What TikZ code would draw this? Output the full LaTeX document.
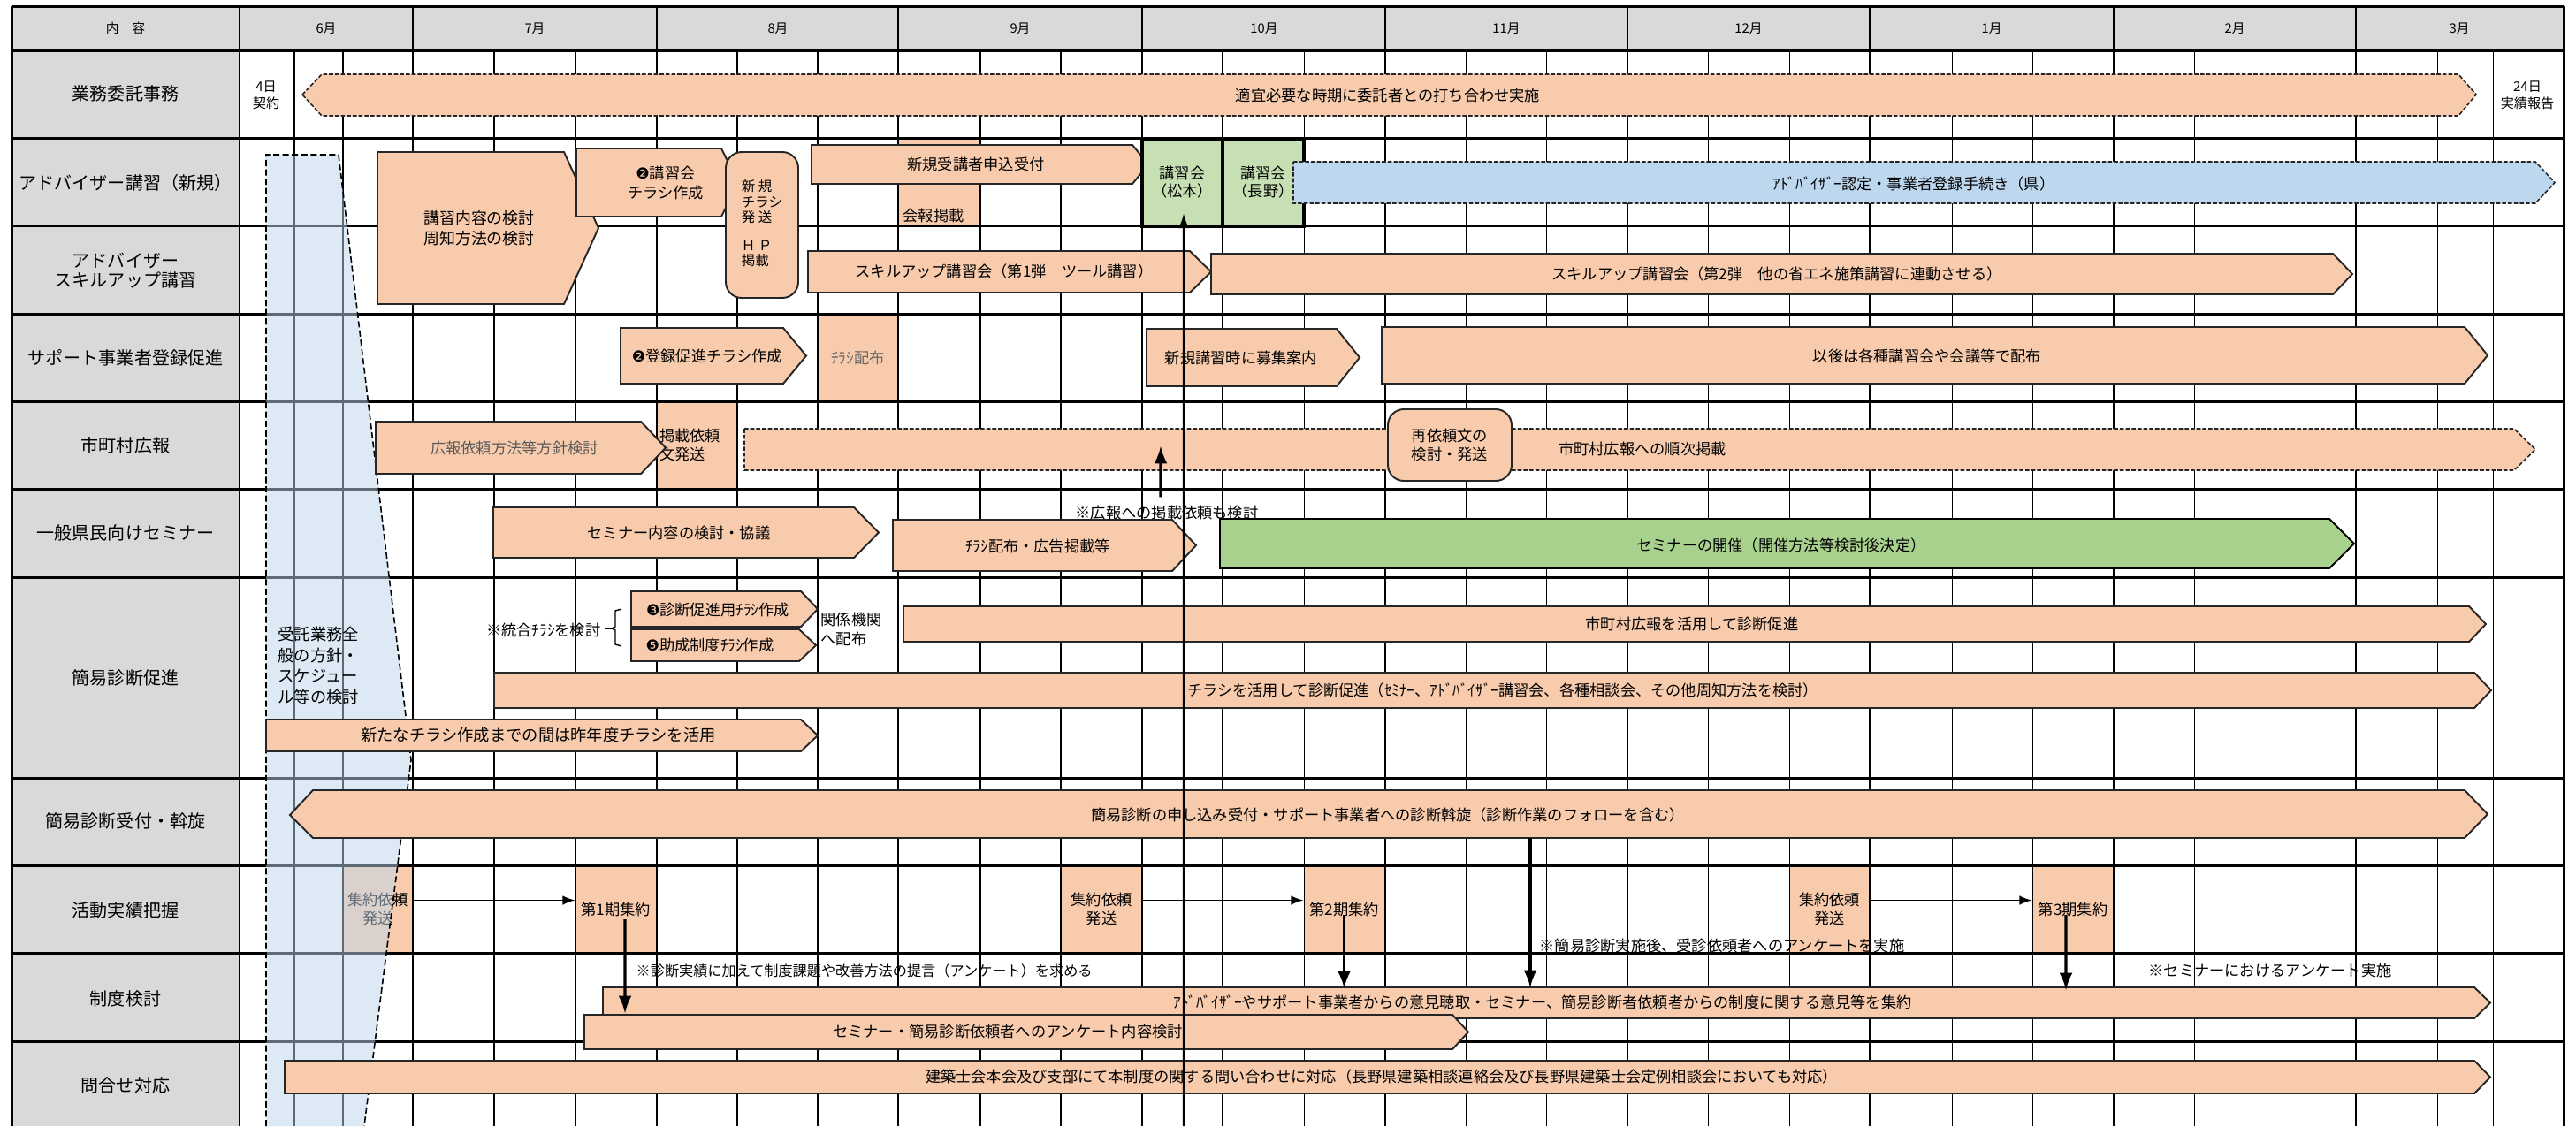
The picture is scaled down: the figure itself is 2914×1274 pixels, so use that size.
\documentclass[tikz,border=0pt]{standalone}
\usepackage{fontspec}
\setmainfont{Noto Sans CJK JP}
\newfontfamily\dingfont{DejaVu Sans}
\usepackage{tikz}
\usetikzlibrary{calc}
\definecolor{hdrgray}{HTML}{D9D9D9}
\definecolor{barorg}{HTML}{F8CBAD}
\definecolor{kosgrn}{HTML}{C6E0B4}
\definecolor{semgrn}{HTML}{A9D18E}
\definecolor{kenblu}{HTML}{BDD7EE}
\newcommand{\dg}[1]{{\dingfont #1}}
\newcommand{\pentbar}[6][]{\draw[bar,#1] (#2,#3) -- (#4,#3) -- (#6,{(#3+#5)/2}) -- (#4,#5) -- (#2,#5) -- cycle;}

\begin{document}
\begin{tikzpicture}[x=0.1mm,y=-0.1mm,>=latex,
    hdr/.style={font=\fontsize{4.2}{5}\selectfont,inner sep=0},
    lbl/.style={font=\fontsize{5.7}{6.3}\selectfont,align=center,inner sep=0},
    tx/.style={font=\fontsize{4.9}{6.2}\selectfont,align=center,inner sep=0},
    sm/.style={font=\fontsize{4.3}{5.4}\selectfont,align=center,inner sep=0},
    cell/.style={fill=barorg,inner sep=0,minimum height=9.9mm},
    kos/.style={draw=black,line width=1.1pt,fill=kosgrn,inner sep=0,minimum height=9.9mm,font=\fontsize{4.9}{5.7}\selectfont,align=center},
    rbox/.style={draw=black!85,line width=0.55pt,fill=barorg,rounded corners=1.8mm,inner sep=0},
    bar/.style={draw=black!85,line width=0.55pt,fill=barorg},
    dbar/.style={bar,line width=0.45pt,dash pattern=on 1.3pt off 0.6pt},
    gridln/.style={line width=0.3pt},
    monln/.style={line width=0.5pt},
    rowln/.style={line width=0.85pt},
    harr/.style={->,line width=0.4pt},
    dnarr/.style={->,line width=0.9pt}]
  \useasboundingbox (0,0) rectangle (2914,1274);
  \fill[white] (0,0) rectangle (2914,1274);
  \fill[hdrgray] (14,7) rectangle (2900,57);
  \fill[hdrgray] (14,57) rectangle (271,1274);

  \node[hdr] (naiyo) at (142,32) {内　容};
  \foreach \m/\x in {6/369,7/605,8/880,9/1154,10/1430,11/1704,12/1978,1/2253,2/2528,3/2782}
    \node[hdr] (m\m) at (\x,32) {\m 月};

  \node[lbl] (r1) at (142,106) {業務委託事務};
  \node[lbl] (r2) at (142,207) {アドバイザー講習（新規）};
  \node[lbl] (r3) at (142,306) {アドバイザー\\スキルアップ講習};
  \node[lbl] (r4) at (142,405) {サポート事業者登録促進};
  \node[lbl] (r5) at (142,504) {市町村広報};
  \node[lbl] (r6) at (142,603) {一般県民向けセミナー};
  \node[lbl] (r7) at (142,767) {簡易診断促進};
  \node[lbl] (r8) at (142,929) {簡易診断受付・斡旋};
  \node[lbl] (r9) at (142,1030) {活動実績把握};
  \node[lbl] (r10) at (142,1130) {制度検討};
  \node[lbl] (r11) at (142,1228) {問合せ対応};

  \node[cell,minimum width=9.3mm,minimum height=10mm] (kaiho) at (1062.5,206) {};
  \node[tx] (kaihotx) at (1056,244) {会報掲載};
  \node[cell,tx,minimum width=9.1mm,text=black!60] (haifu) at (970.5,404.5) {ﾁﾗｼ配布};
  \node[cell,tx,minimum width=9.1mm,text width=8.5mm,align=left] (keisai) at (788.5,503.5) {掲載依頼\\文発送};
  \node[cell,tx,minimum width=7.9mm] (irai1) at (427.5,1028.5) {集約依頼\\発送};
  \node[cell,tx,minimum width=9.1mm] (shu1) at (696.5,1028.5) {第1期集約};
  \node[cell,tx,minimum width=9.2mm] (irai2) at (1246,1028.5) {集約依頼\\発送};
  \node[cell,tx,minimum width=9.1mm] (shu2) at (1520.5,1028.5) {第2期集約};
  \node[cell,tx,minimum width=9.1mm] (irai3) at (2069.5,1028.5) {集約依頼\\発送};
  \node[cell,tx,minimum width=9.2mm] (shu3) at (2345,1028.5) {第3期集約};

  \foreach \x in {333,388,559,651,834,925,1109,1200,1383,1475,1658,1749,1932,2024,2208,2299,2482,2573,2757,2820}
    \draw[gridln] (\x,57) -- (\x,1274);
  \foreach \x in {467,743,1016,1292,1567,1841,2115,2391,2665,2900}
    \draw[monln] (\x,7) -- (\x,1274);
  \draw[gridln] (14,256) -- (2900,256);
  \foreach \y in {7,57,156,355,454,553,653,880,979,1078,1178}
    \draw[rowln] (14,\y) -- (2900,\y);
  \draw[rowln] (14,7) -- (14,1274);
  \draw[rowln] (271,7) -- (271,1274);

  \filldraw[fill=kenblu,fill opacity=0.5,draw=black,line width=0.45pt,dash pattern=on 2pt off 1pt] (301,1274) -- (301,175) -- (383,175) -- (465,860) -- (412,1274);
  \node[tx,anchor=west,align=left,font=\fontsize{5.2}{6.8}\selectfont] (jutaku) at (314,753) {受託業務全\\般の方針・\\スケジュー\\ル等の検討};

  \node[sm] (keiyaku) at (301,108) {4日\\契約};
  \draw[dbar] (342,107) -- (364,84) -- (2781,84) -- (2801,107) -- (2781,131) -- (364,131) -- cycle;
  \node[tx] (uchiawase) at (1570,108) {適宜必要な時期に委託者との打ち合わせ実施};
  \node[sm] (hokoku) at (2859,108) {24日\\実績報告};

  \pentbar{427}{172}{638}{344}{677}
  \node[tx,font=\fontsize{5.1}{6.6}\selectfont] (kentou) at (542,258) {講習内容の検討\\周知方法の検討};
  \pentbar{652}{168}{816}{245}{835}
  \node[tx] (kchirashi) at (753,207) {\dg{❷}講習会\\チラシ作成};
  \node[rbox,minimum width=8.2mm,minimum height=16.5mm] (shinki) at (862,254.5) {};
  \node[tx,align=left,font=\fontsize{4.4}{5}\selectfont] (shinkitx) at (862,253) {新\ 規\\チラシ\\発\ 送\\[1.4mm]Ｈ\ Ｐ\\掲載};
  \pentbar{918}{164}{1281}{208}{1299}
  \node[tx] (moushikomi) at (1104,186) {新規受講者申込受付};
  \node[kos,minimum width=9.1mm] (matsu) at (1337.5,206.5) {講習会\\（松本）};
  \node[kos,minimum width=9.2mm] (nagano) at (1429,206.5) {講習会\\（長野）};
  \pentbar[dbar,fill=kenblu]{1463}{183}{2868}{230}{2890}
  \node[tx] (nintei) at (2165,208) {ｱﾄﾞﾊﾞｲｻﾞｰ認定・事業者登録手続き（県）};

  \pentbar{914}{284}{1346}{331}{1370}
  \node[tx] (skill1) at (1136,307) {スキルアップ講習会（第1弾　ツール講習）};
  \pentbar{1370}{287}{2639}{333}{2661}
  \node[tx] (skill2) at (2010,310) {スキルアップ講習会（第2弾　他の省エネ施策講習に連動させる）};

  \pentbar{702}{371}{886}{434}{912}
  \node[tx] (toroku) at (800,403) {\dg{❷}登録促進チラシ作成};
  \pentbar{1297}{372}{1512}{437}{1538}
  \node[tx] (boshu) at (1404,405) {新規講習時に募集案内};
  \pentbar{1563}{370}{2788}{434}{2814}
  \node[tx] (igo) at (2180,403) {以後は各種講習会や会議等で配布};

  \pentbar{425}{477}{725}{536}{753}
  \node[tx,text=black!65] (hoshin) at (582,507) {広報依頼方法等方針検討};
  \pentbar[dbar]{842}{485}{2844}{532}{2868}
  \node[tx] (junji) at (1858,508) {市町村広報への順次掲載};
  \node[rbox,tx,minimum width=14mm,minimum height=8.1mm] (saiirai) at (1640,503.5) {再依頼文の\\検討・発送};
  \node[tx] (kohonote) at (1320,580) {※広報への掲載依頼も検討};
  \coordinate (kohotip) at (1313,505);

  \pentbar{558}{574}{966}{631}{994}
  \node[tx] (semnaiyo) at (768,603) {セミナー内容の検討・協議};
  \pentbar{1010}{588}{1326}{646}{1353}
  \node[tx] (semchirashi) at (1174,618) {ﾁﾗｼ配布・広告掲載等};
  \pentbar[fill=semgrn,draw=black]{1380}{587}{2635}{643}{2663}
  \node[tx] (semkaisai) at (2015,617) {セミナーの開催（開催方法等検討後決定）};

  \node[tx,anchor=east] (tougou) at (680,713) {※統合ﾁﾗｼを検討};
  \draw[line width=0.4pt] (703,689) -- (696,691) -- (696,709) -- (692,711) -- (696,713) -- (696,729) -- (703,731);
  \draw[line width=0.4pt] (684,711) -- (692,711);
  \pentbar{714}{669}{906}{709}{925}
  \node[tx] (shindanchi) at (812,690) {\dg{❸}診断促進用ﾁﾗｼ作成};
  \pentbar{714}{712}{904}{748}{923}
  \node[tx] (joseichi) at (803,730) {\dg{❺}助成制度ﾁﾗｼ作成};
  \node[tx,anchor=west,align=left] (kankei) at (928,712) {関係機関\\へ配布};
  \pentbar{1022}{686}{2793}{726}{2812}
  \node[tx] (kohokatsu) at (1914,706) {市町村広報を活用して診断促進};
  \pentbar{559}{761}{2799}{801}{2818}
  \node[tx] (chikatsu) at (1700,781) {チラシを活用して診断促進（ｾﾐﾅｰ、ｱﾄﾞﾊﾞｲｻﾞｰ講習会、各種相談会、その他周知方法を検討）};
  \pentbar{301}{814}{906}{850}{925}
  \node[tx,font=\fontsize{5.2}{6.2}\selectfont] (sakunen) at (609,832) {新たなチラシ作成までの間は昨年度チラシを活用};

  \draw[bar] (328,922) -- (354,894) -- (2788,894) -- (2814,921) -- (2788,948) -- (354,948) -- cycle;
  \node[tx] (uketsuke) at (1570,922) {簡易診断の申し込み受付・サポート事業者への診断斡旋（診断作業のフォローを含む）};

  \node[tx,anchor=west] (jushin) at (1741,1070) {※簡易診断実施後、受診依頼者へのアンケートを実施};
  \node[tx,anchor=west,font=\fontsize{4.6}{6}\selectfont] (teigen) at (719,1098) {※診断実績に加えて制度課題や改善方法の提言（アンケート）を求める};
  \node[tx] (semenq) at (2568,1098) {※セミナーにおけるアンケート実施};

  \pentbar{682}{1117}{2799}{1152}{2817}
  \node[tx] (iken) at (1745,1134) {ｱﾄﾞﾊﾞｲｻﾞｰやサポート事業者からの意見聴取・セミナー、簡易診断者依頼者からの制度に関する意見等を集約};
  \pentbar{661}{1148}{1643}{1187}{1661}
  \node[tx] (enqnaiyo) at (1140,1167) {セミナー・簡易診断依頼者へのアンケート内容検討};

  \pentbar{322}{1200}{2799}{1237}{2817}
  \node[tx] (toiawase) at (1563,1218) {建築士会本会及び支部にて本制度の関する問い合わせに対応（長野県建築相談連絡会及び長野県建築士会定例相談会においても対応）};

  \coordinate (shu1end) at (707,1146);
  \coordinate (shu2end) at (1520.5,1118);
  \coordinate (shu3end) at (2337,1120);
  \coordinate (ukebot) at (1731,948);
  \coordinate (ukeend) at (1731,1117);
  \coordinate (longbot) at (1339,1274);

  \draw[harr] ([yshift=1mm]irai1.east) -- ([yshift=1mm]shu1.west);
  \draw[harr] ([yshift=1mm]irai2.east) -- ([yshift=1mm]shu2.west);
  \draw[harr] ([yshift=1mm]irai3.east) -- ([yshift=1mm]shu3.west);
  \draw[dnarr] ([xshift=1.05mm,yshift=-1.15mm]shu1.center) -- (shu1end);
  \draw[dnarr] ([yshift=-0.65mm]shu2.center) -- (shu2end);
  \draw[dnarr] ([xshift=-0.8mm,yshift=-0.65mm]shu3.center) -- (shu3end);
  \draw[dnarr] (ukebot) -- (ukeend);
  \draw[dnarr] ([xshift=-0.7mm,yshift=0.9mm]kohonote.north) -- (kohotip);
  \draw[->,line width=0.6pt] (longbot) -- ([xshift=0.15mm,yshift=1.6mm]matsu.south);
\end{tikzpicture}
\end{document}
